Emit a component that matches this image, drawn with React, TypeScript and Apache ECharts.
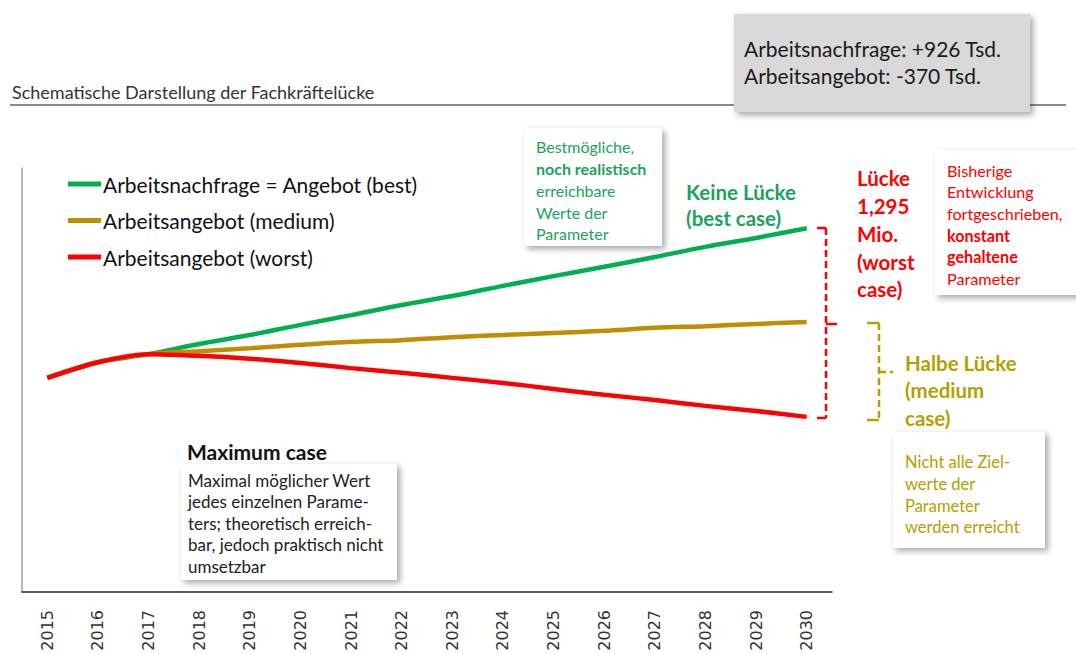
import React, { useEffect, useRef } from "react";
import * as echarts from "echarts";

const years = ["2015","2016","2017","2018","2019","2020","2021","2022","2023","2024","2025","2026","2027","2028","2029","2030"];
const bestCase = [50.5, 54.2, 56.1, 58.5, 60.6, 63.0, 65.3, 67.7, 69.8, 72.2, 74.5, 76.7, 79.0, 81.4, 83.5, 85.8];
const mediumCase = [50.5, 54.2, 56.1, 56.8, 57.5, 58.3, 59.0, 59.4, 60.1, 60.6, 61.1, 61.6, 62.3, 62.7, 63.2, 63.7];
const worstCase = [50.5, 54.2, 56.1, 55.7, 55.0, 54.0, 52.8, 51.7, 50.5, 49.3, 47.9, 46.5, 45.3, 43.9, 42.7, 41.3];
const seriesNames = ["Arbeitsnachfrage = Angebot (best)", "Arbeitsangebot (medium)", "Arbeitsangebot (worst)"];

const FONT = "Lato, 'Open Sans', sans-serif";
const GREEN = "#00b050";
const GREEN_TXT = "#1aa35c";
const MED = "#c08e00";
const GOLD = "#b5a000";
const RED = "#ff0000";

const shadow = {
  shadowBlur: 6,
  shadowColor: "rgba(0,0,0,0.35)",
  shadowOffsetX: 3,
  shadowOffsetY: 3,
};

function txt(text: string, x: number, y: number, fill: string, size: number, bold = false) {
  return {
    type: "text",
    x,
    y,
    z: 20,
    style: {
      text,
      fill,
      font: `${bold ? "bold " : ""}${size}px ${FONT}`,
      verticalAlign: "middle",
      align: "left",
    },
  };
}

function seg(x1: number, y1: number, x2: number, y2: number, stroke: string, dash = true) {
  return {
    type: "line",
    z: 15,
    shape: { x1, y1, x2, y2 },
    style: { stroke, lineWidth: 2.5, lineDash: dash ? [7, 4] : undefined },
  };
}

export default function App() {
  const ref = useRef<HTMLDivElement>(null);
  useEffect(() => {
    if (!ref.current) return;
    const chart = echarts.init(ref.current, null, { renderer: "svg" });
    const graphic: any[] = [
      // title + rule
      txt("Schematische Darstellung der Fachkräftelücke", 12, 92, "#333", 18),
      { type: "line", shape: { x1: 10, y1: 105, x2: 1066, y2: 105 }, style: { stroke: "#8a8a8a", lineWidth: 2 }, z: 5 },
      // grey summary box
      { type: "rect", z: 10, shape: { x: 734, y: 14, width: 296, height: 98 }, style: { fill: "#d9d9d9", ...shadow } },
      txt("Arbeitsnachfrage: +926 Tsd.", 744, 48, "#1a1a1a", 21),
      txt("Arbeitsangebot: -370 Tsd.", 744, 75, "#1a1a1a", 21),
      // green box
      { type: "rect", z: 10, shape: { x: 524, y: 128, width: 138, height: 118 }, style: { fill: "#fff", ...shadow } },
      txt("Bestmögliche,", 536, 146, GREEN_TXT, 16),
      txt("noch realistisch", 536, 168, GREEN_TXT, 16, true),
      txt("erreichbare", 536, 190, GREEN_TXT, 16),
      txt("Werte der", 536, 212, GREEN_TXT, 16),
      txt("Parameter", 536, 233, GREEN_TXT, 16),
      txt("Keine Lücke", 686, 192, GREEN_TXT, 20.5, true),
      txt("(best case)", 686, 218, GREEN_TXT, 20.5, true),
      // red bracket
      seg(826, 228, 826, 418, RED),
      seg(817, 228, 826, 228, RED, false),
      seg(817, 418, 826, 418, RED, false),
      seg(826, 324, 837, 324, RED, false),
      txt("Lücke", 857, 178, RED, 20.5, true),
      txt("1,295", 857, 206, RED, 20.5, true),
      txt("Mio.", 857, 234, RED, 20.5, true),
      txt("(worst", 857, 262, RED, 20.5, true),
      txt("case)", 857, 289, RED, 20.5, true),
      // red box
      { type: "rect", z: 10, shape: { x: 935, y: 150, width: 150, height: 145 }, style: { fill: "#fff", ...shadow } },
      txt("Bisherige", 947, 170, RED, 16.2),
      txt("Entwicklung", 947, 191, RED, 16.2),
      txt("fortgeschrieben,", 947, 213, RED, 16.2),
      txt("konstant", 947, 235, RED, 16.2, true),
      txt("gehaltene", 947, 256, RED, 16.2, true),
      txt("Parameter", 947, 278, RED, 16.2),
      // gold bracket
      seg(879, 323, 879, 420, GOLD),
      seg(867, 323, 879, 323, GOLD, false),
      seg(867, 420, 879, 420, GOLD, false),
      seg(879, 372, 893, 372, GOLD),
      txt("Halbe Lücke", 905, 363, GOLD, 20.5, true),
      txt("(medium", 905, 390, GOLD, 20.5, true),
      txt("case)", 905, 418, GOLD, 20.5, true),
      // gold box
      { type: "rect", z: 10, shape: { x: 893, y: 432, width: 152, height: 116 }, style: { fill: "#fff", ...shadow } },
      txt("Nicht alle Ziel-", 905, 462, GOLD, 16.5),
      txt("werte der", 905, 484, GOLD, 16.5),
      txt("Parameter", 905, 506, GOLD, 16.5),
      txt("werden erreicht", 905, 527, GOLD, 16.5),
      // maximum case
      txt("Maximum case", 187, 451, "#111", 21, true),
      { type: "rect", z: 10, shape: { x: 181, y: 464, width: 216, height: 116 }, style: { fill: "#fff", ...shadow } },
      txt("Maximal möglicher Wert", 188, 480, "#222", 17),
      txt("jedes einzelnen Parame-", 188, 501.5, "#222", 17),
      txt("ters; theoretisch erreich-", 188, 523, "#222", 17),
      txt("bar, jedoch praktisch nicht", 188, 544.5, "#222", 17),
      txt("umsetzbar", 188, 566, "#222", 17),
    ];

    const colors = [GREEN, MED, RED];
    const data = [bestCase, mediumCase, worstCase];

    chart.setOption({
      animation: false,
      backgroundColor: "#fff",
      grid: { left: 22, right: 244, top: 168, bottom: 62 },
      legend: {
        orient: "vertical",
        left: 63,
        top: 167,
        icon: "rect",
        itemWidth: 33,
        itemHeight: 5,
        itemGap: 12.5,
        data: seriesNames,
        textStyle: { fontFamily: FONT, fontSize: 21, color: "#111", lineHeight: 24, padding: [0, 0, 0, -3] },
      },
      xAxis: {
        type: "category",
        data: years,
        boundaryGap: true,
        axisLine: { lineStyle: { color: "#222", width: 1.5 } },
        axisTick: { show: false },
        axisLabel: { rotate: 90, margin: 18, fontFamily: "'DejaVu Sans', sans-serif", fontSize: 16, color: "#333", interval: 0 },
        splitLine: { show: false },
      },
      yAxis: {
        type: "value",
        min: 0,
        max: 100,
        axisLine: { show: true, lineStyle: { color: "#a0a0a0", width: 1.5 } },
        axisTick: { show: false },
        axisLabel: { show: false },
        splitLine: { show: false },
      },
      series: seriesNames.map((name, i) => ({
        name,
        type: "line",
        data: data[i],
        smooth: 0.3,
        symbol: "none",
        color: colors[i],
        lineStyle: { width: 4.5, color: colors[i] },
        z: 2 + i,
      })),
      graphic,
    });
    return () => chart.dispose();
  }, []);
  return <div ref={ref} style={{ position: "fixed", left: 0, top: 0, width: 1076, height: 654 }} />;
}
